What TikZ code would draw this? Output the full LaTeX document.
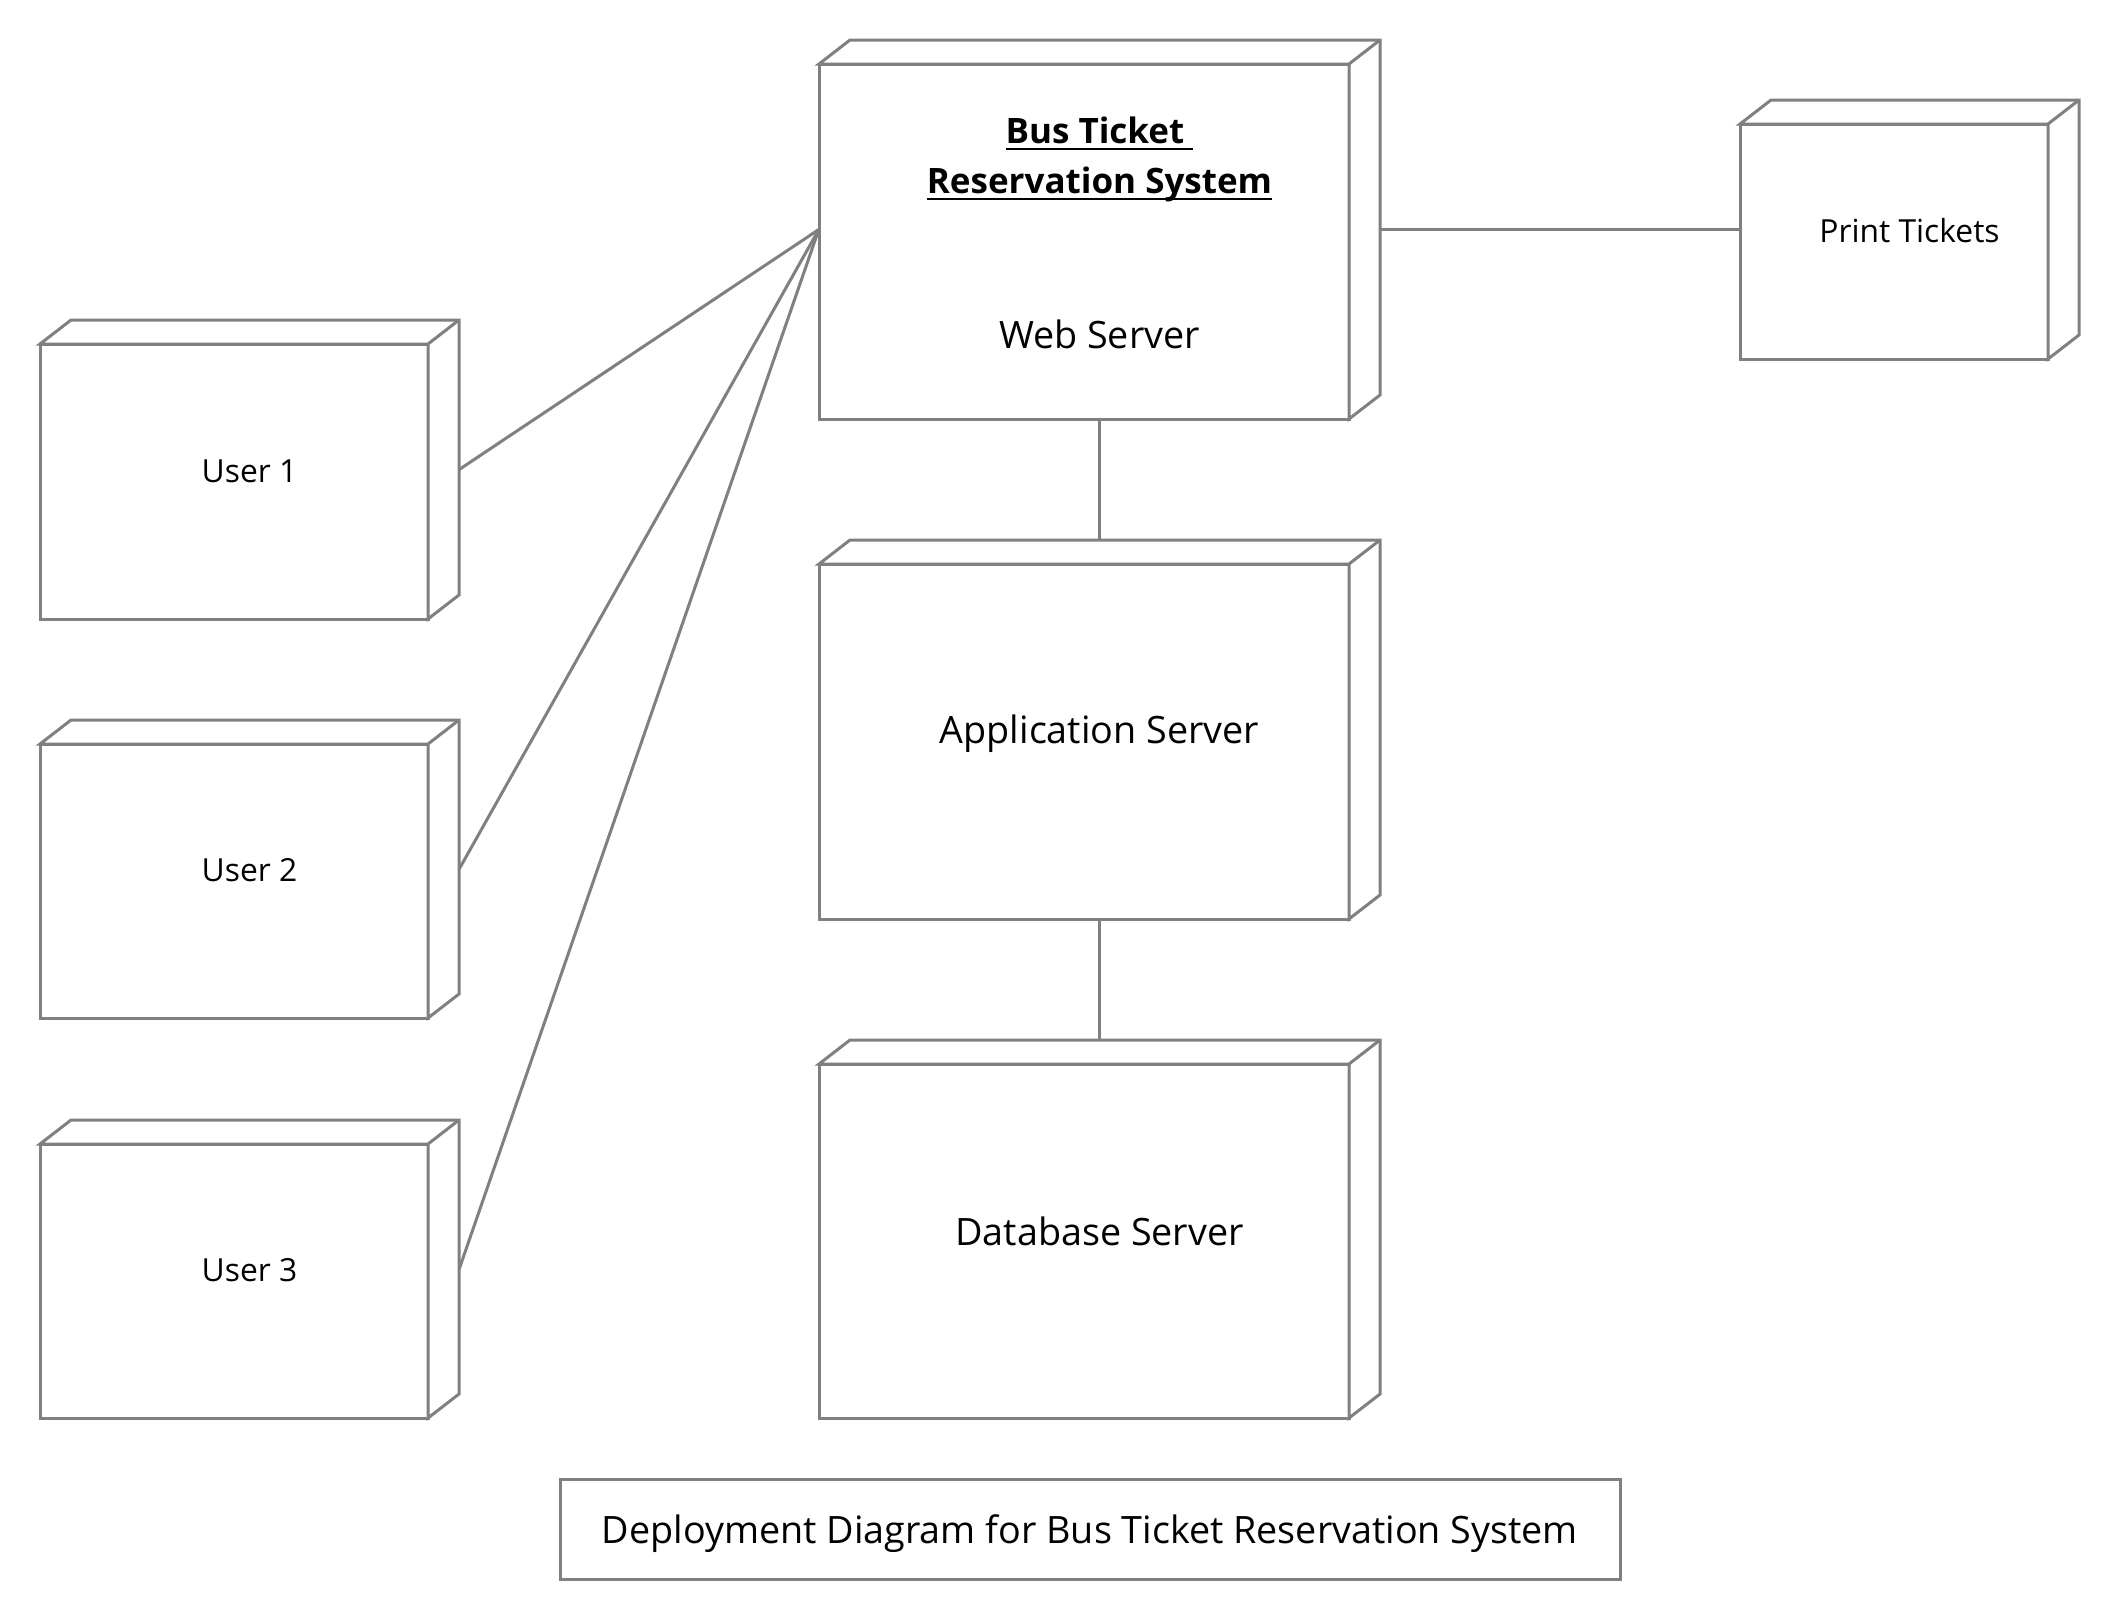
\documentclass[tikz,border=0pt]{standalone}
\usepackage{fontspec}
\setmainfont{Open Sans}
\usetikzlibrary{fit}
\definecolor{lc}{HTML}{808080}
\newcommand\myul[1]{\setbox0\hbox{#1}\rlap{\rule[-0.2em]{\wd0}{2.2pt}}\box0}
\tikzset{
  ln/.style={draw=lc, line width=3pt, line join=miter},
  small/.style={font=\fontsize{31.8}{38}\selectfont, text=black, yshift=-1.5pt},
  big/.style={font=\fontsize{37.7}{45}\selectfont, text=black, yshift=-2.5pt},
}
\newcommand\depnode[5]{%
  \draw[ln, fill=white] (#2,#3) rectangle (#4,#5);
  \draw[ln, fill=white] (#2,#3) -- ++(31,-24) -- (#4+31,#3-24) -- (#4+31,#5-24) -- (#4,#5) -- (#4,#3) -- cycle;
  \draw[ln] (#4,#3) -- (#4+31,#3-24);
  \node[fit={(#2,#3-24) (#4+31,#5)}, inner sep=0pt] (#1) {};
}
\begin{document}
\begin{tikzpicture}[x=1pt, y=-1pt]
\useasboundingbox[fill=white] (0,0) rectangle (2120,1620);
\depnode{web}{819}{64}{1349}{419}
\depnode{app}{819}{564}{1349}{919}
\depnode{db}{819}{1064}{1349}{1418}
\depnode{uone}{40}{344}{428}{619}
\depnode{utwo}{40}{744}{428}{1018}
\depnode{uthree}{40}{1144}{428}{1418}
\depnode{print}{1740}{124}{2048}{359}
\draw[ln] (uone.east) -- (web.west);
\draw[ln] (utwo.east) -- (web.west);
\draw[ln] (uthree.east) -- (web.west);
\draw[ln] (web.east) -- (print.west);
\draw[ln] (web.south) -- (app.north);
\draw[ln] (app.south) -- (db.north);
\node[align=center, font=\fontsize{35}{50}\selectfont\bfseries, inner sep=0pt] (webtitle) at (1099.5,159) {\myul{Bus Ticket\ }\\\myul{Reservation System}};
\node[big, yshift=2.5pt] (webl) at (1099.5,334) {Web Server};
\node[big, yshift=-1.5pt] (appl) at (app.center) {Application Server};
\node[big] (dbl) at (db.center) {Database Server};
\node[small] (uonel) at (uone.center) {User 1};
\node[small] (utwol) at (utwo.center) {User 2};
\node[small] (uthreel) at (uthree.center) {User 3};
\node[small] (printl) at (print.center) {Print Tickets};
\node[ln, big, yshift=2.5pt, text depth=0pt, minimum width=1060pt, minimum height=100pt, inner sep=0pt] (cap) at (1090,1529) {Deployment Diagram for Bus Ticket Reservation System};
\end{tikzpicture}
\end{document}
